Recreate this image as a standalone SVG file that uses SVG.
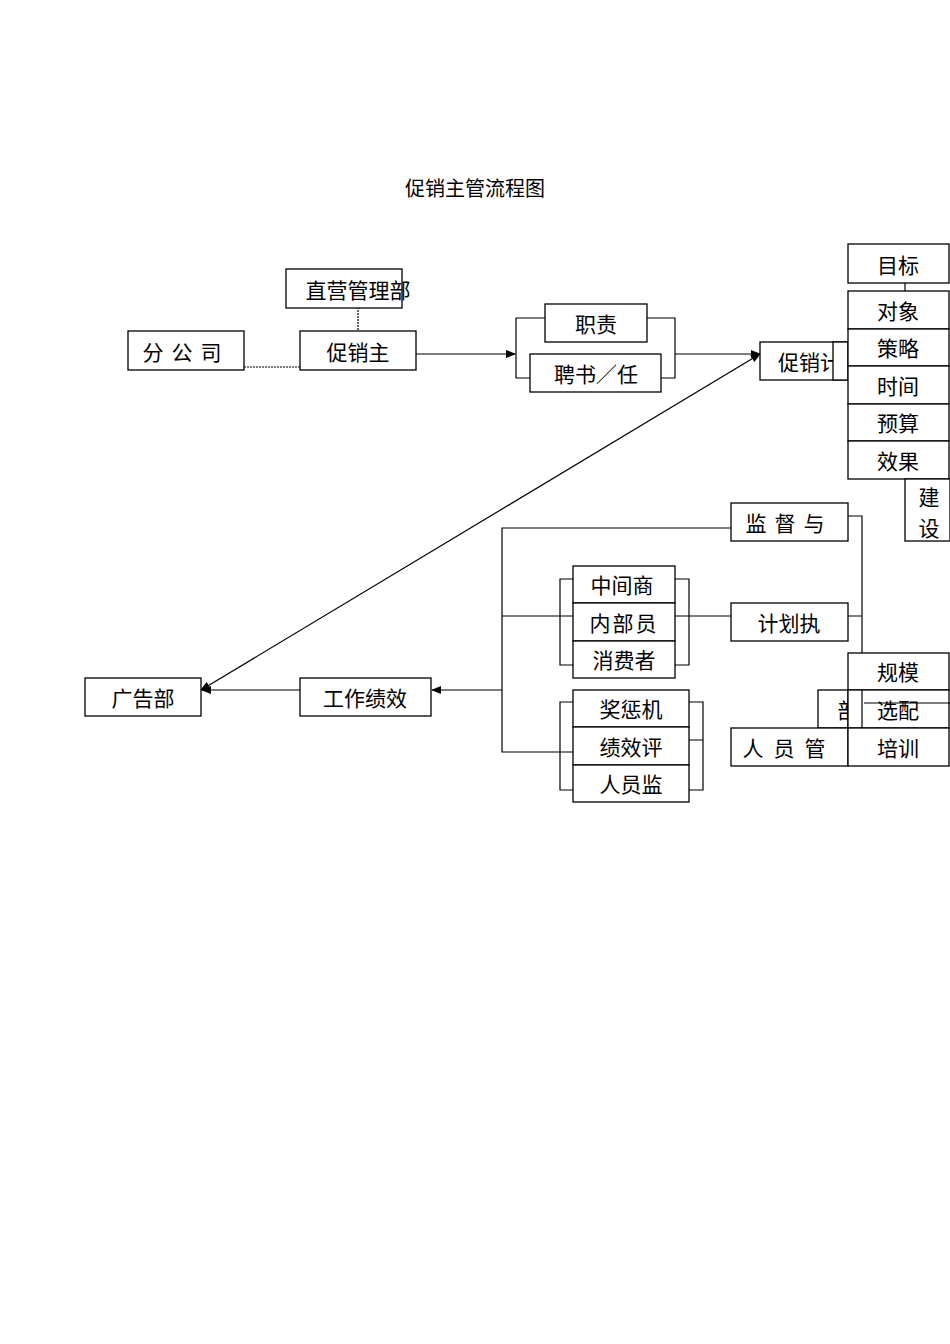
<svg xmlns="http://www.w3.org/2000/svg" width="950" height="1344" viewBox="0 0 950 1344">
<style>
.b{fill:#fff;stroke:#000;stroke-width:1.3}
.t{font-family:"Noto Sans CJK SC","Liberation Sans",sans-serif;font-size:21px;text-anchor:middle;dominant-baseline:central;fill:#000}
.l{fill:none;stroke:#000;stroke-width:1.2}
.d{fill:none;stroke:#000;stroke-width:1.2;stroke-dasharray:2,1}
</style>
<defs><marker id="a" markerWidth="10" markerHeight="8" refX="9" refY="4" orient="auto-start-reverse" markerUnits="userSpaceOnUse"><path d="M0,0L10,4L0,8z"/></marker></defs>
<rect width="950" height="1344" fill="#fff"/>
<text x="475" y="187" class="t" style="font-size:20px">促销主管流程图</text>
<g id="connectors">
<path class="d" d="M244,367H300M358,289V345"/>
<path class="l" d="M416,354H515" marker-end="url(#a)"/>
<path class="l" d="M545,318H516V378H530M647,318H675V378H661M675,354H760" marker-end="url(#a)"/>
<path class="l" d="M201,690L760,354" marker-start="url(#a)" marker-end="url(#a)"/>
<path class="l" d="M905,265V479"/>
<path class="l" d="M862,354H905" marker-end="url(#a)"/>
<path class="l" d="M878,367H948" marker-end="url(#a)"/>
<path class="l" d="M731,528H502V752H573M502,616H573M502,690H432" marker-end="url(#a)"/>
<path class="l" d="M300,690H202" marker-end="url(#a)"/>
<path class="l" d="M573,579H560V665H573M675,579H689V665H675M675,616H731"/>
<path class="l" d="M573,702H560V790H573M689,702H703V790H689M689,740H703"/>
<path class="l" d="M848,516H862V753H848M848,616H862"/>
<path class="l" d="M947,665V753M935,665H947M935,753H947"/>
<path class="l" d="M950,703H863" marker-end="url(#a)"/>
<path class="l" d="M937,278H947M937,318H947M937,356H947M937,393H947M937,430H947M937,468H947"/>
</g>
<g id="n1"><rect class="b" x="286" y="269" width="116" height="39"/><text class="t" x="358" y="289">直营管理部</text></g>
<g id="n2"><rect class="b" x="128" y="331" width="116" height="39"/><text class="t" x="186" y="351" style="letter-spacing:8px">分公司</text></g>
<g id="n3"><rect class="b" x="300" y="331" width="116" height="39"/><text class="t" x="358" y="351">促销主</text></g>
<g id="n4"><rect class="b" x="545" y="304" width="102" height="38"/><text class="t" x="596" y="323">职责</text></g>
<g id="n5"><rect class="b" x="530" y="354" width="131" height="38"/><text class="t" x="596" y="373">聘书／任</text></g>
<g id="n6"><rect class="b" x="760" y="342" width="88" height="38"/><text class="t" x="798" y="361" style="text-anchor:start" dx="-20">促销计</text><rect class="b" x="833" y="342" width="15" height="38"/></g>
<g id="n7"><rect class="b" x="848" y="244" width="101" height="39"/><text class="t" x="898" y="264">目标</text></g>
<g id="n8"><rect class="b" x="848" y="291" width="101" height="38"/><text class="t" x="898" y="310">对象</text></g>
<g id="n9"><rect class="b" x="848" y="329" width="101" height="37"/><text class="t" x="898" y="347">策略</text></g>
<g id="n10"><rect class="b" x="848" y="366" width="101" height="38"/><text class="t" x="898" y="385">时间</text></g>
<g id="n11"><rect class="b" x="848" y="404" width="101" height="37"/><text class="t" x="898" y="422">预算</text></g>
<g id="n12"><rect class="b" x="848" y="441" width="101" height="38"/><text class="t" x="898" y="460">效果</text></g>
<g id="n13"><rect class="b" x="905" y="479" width="45" height="62"/><text class="t" x="929" y="496">建</text><text class="t" x="929" y="527">设</text></g>
<g id="n14"><rect class="b" x="731" y="503" width="117" height="38"/><text class="t" x="789" y="522" style="letter-spacing:8px">监督与</text></g>
<g id="n15"><rect class="b" x="573" y="566" width="102" height="37"/><text class="t" x="622" y="584">中间商</text></g>
<g id="n16"><rect class="b" x="573" y="603" width="102" height="38"/><text class="t" x="624" y="622" style="letter-spacing:2px">内部员</text></g>
<g id="n17"><rect class="b" x="573" y="641" width="102" height="37"/><text class="t" x="624" y="659">消费者</text></g>
<g id="n18"><rect class="b" x="731" y="603" width="117" height="38"/><text class="t" x="789" y="622">计划执</text></g>
<g id="n19"><rect class="b" x="573" y="690" width="116" height="37"/><text class="t" x="631" y="708">奖惩机</text></g>
<g id="n20"><rect class="b" x="573" y="727" width="116" height="38"/><text class="t" x="631" y="746">绩效评</text></g>
<g id="n21"><rect class="b" x="573" y="765" width="116" height="37"/><text class="t" x="631" y="783">人员监</text></g>
<g id="n22"><rect class="b" x="818" y="690" width="30" height="38"/><text class="t" x="848" y="709">部</text></g>
<g id="n23"><rect class="b" x="731" y="728" width="117" height="38"/><text class="t" x="789" y="747" style="letter-spacing:10px">人员管</text></g>
<g id="n24"><rect class="b" x="848" y="653" width="101" height="37"/><text class="t" x="898" y="671">规模</text></g>
<g id="n25"><rect class="b" x="848" y="690" width="101" height="38"/><text class="t" x="898" y="709">选配</text></g>
<g id="n26"><rect class="b" x="848" y="728" width="101" height="38"/><text class="t" x="898" y="747">培训</text></g>
<g id="n27"><rect class="b" x="85" y="678" width="116" height="38"/><text class="t" x="143" y="697">广告部</text></g>
<g id="n28"><rect class="b" x="300" y="678" width="131" height="38"/><text class="t" x="365" y="697">工作绩效</text></g>
<rect x="849" y="691" width="13" height="36" fill="#fff"/>
<path class="l" d="M862,690V728M950,703H864"/>
</svg>
